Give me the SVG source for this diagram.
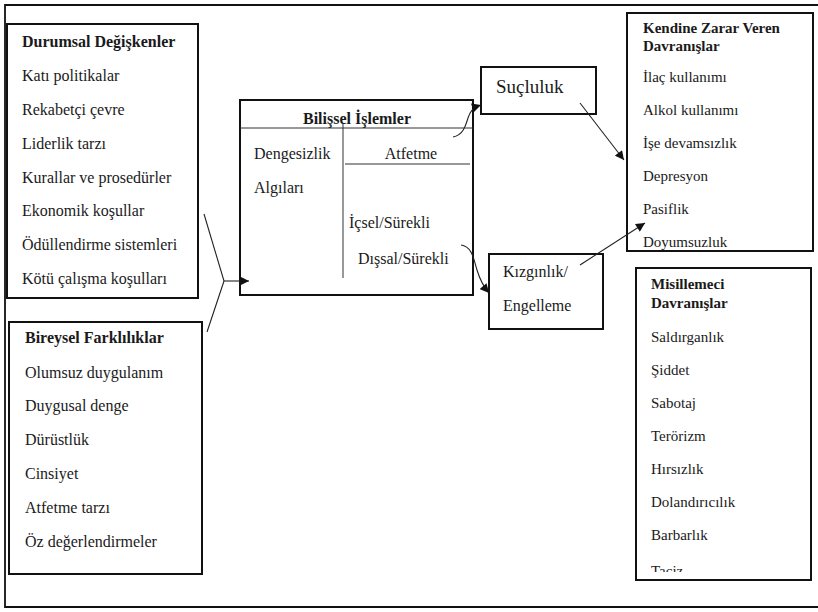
<svg xmlns="http://www.w3.org/2000/svg" width="818" height="612" viewBox="0 0 818 612">
<style>
.box{fill:#fff;stroke:#111;stroke-width:2}
.t{font-family:'Liberation Serif','Times New Roman','DejaVu Serif',serif;font-size:16px;fill:#1a1a1a}
.s{font-size:15px}
.b{font-weight:bold}
.thin{fill:none;stroke:#333;stroke-width:1}
.con{fill:none;stroke:#222;stroke-width:1.1}
</style>
<defs>
<marker id="ah" viewBox="0 0 10 10" refX="10" refY="5" markerWidth="10" markerHeight="9" markerUnits="userSpaceOnUse" orient="auto"><path d="M0,0 L10,5 L0,10 z" fill="#111"/></marker>
<clipPath id="mclip"><rect x="636" y="268" width="175" height="304"/></clipPath>
</defs>
<rect width="818" height="612" fill="#fff"/>
<path d="M830,5 H5 V607 H830" fill="none" stroke="#111" stroke-width="1.8"/>

<g id="durumsal">
<rect class="box" x="7" y="24" width="191" height="274"/>
<text class="t b" x="22" y="47">Durumsal Değişkenler</text>
<text class="t" x="22" y="81">Katı politikalar</text>
<text class="t" x="22" y="115">Rekabetçi çevre</text>
<text class="t" x="22" y="149">Liderlik tarzı</text>
<text class="t" x="22" y="183">Kurallar ve prosedürler</text>
<text class="t" x="22" y="216">Ekonomik koşullar</text>
<text class="t" x="22" y="250">Ödüllendirme sistemleri</text>
<text class="t" x="22" y="284">Kötü çalışma koşulları</text>
</g>

<g id="bireysel">
<rect class="box" x="9" y="322" width="193" height="252"/>
<text class="t b" x="25" y="343">Bireysel Farklılıklar</text>
<text class="t" x="25" y="378">Olumsuz duygulanım</text>
<text class="t" x="25" y="411">Duygusal denge</text>
<text class="t" x="25" y="445">Dürüstlük</text>
<text class="t" x="25" y="479">Cinsiyet</text>
<text class="t" x="25" y="513">Atfetme tarzı</text>
<text class="t" x="25" y="547">Öz değerlendirmeler</text>
</g>

<g id="bilissel">
<rect class="box" x="240" y="100" width="233" height="195"/>
<line class="thin" x1="240" y1="128" x2="473" y2="128"/>
<text class="t b" x="357" y="124" text-anchor="middle">Bilişsel İşlemler</text>
<line class="thin" x1="343" y1="123" x2="343" y2="278"/>
<text class="t" x="254" y="159">Dengesizlik</text>
<text class="t" x="254" y="193">Algıları</text>
<text class="t" x="411" y="159" text-anchor="middle">Atfetme</text>
<line class="thin" x1="345" y1="164" x2="470" y2="164"/>
<text class="t" x="349" y="228">İçsel/Sürekli</text>
<text class="t" x="358" y="264">Dışsal/Sürekli</text>
</g>

<g id="sucluluk">
<rect class="box" x="481" y="67" width="115" height="47"/>
<text class="t" x="496" y="93" style="font-size:19px">Suçluluk</text>
</g>

<g id="kizginlik">
<rect class="box" x="489" y="254" width="114" height="75"/>
<text class="t" x="503" y="277">Kızgınlık/</text>
<text class="t" x="503" y="311">Engelleme</text>
</g>

<g id="kendine">
<rect class="box" x="627" y="13" width="186" height="238"/>
<text class="t s b" x="643" y="33">Kendine Zarar Veren</text>
<text class="t s b" x="643" y="51">Davranışlar</text>
<text class="t s" x="643" y="82">İlaç kullanımı</text>
<text class="t s" x="643" y="115">Alkol kullanımı</text>
<text class="t s" x="643" y="148">İşe devamsızlık</text>
<text class="t s" x="643" y="181">Depresyon</text>
<text class="t s" x="643" y="214">Pasiflik</text>
<text class="t s" x="643" y="247">Doyumsuzluk</text>
</g>

<g id="misillemeci">
<rect class="box" x="636" y="268" width="175" height="312"/>
<g clip-path="url(#mclip)">
<text class="t s b" x="651" y="289">Misillemeci</text>
<text class="t s b" x="651" y="308">Davranışlar</text>
<text class="t s" x="651" y="342">Saldırganlık</text>
<text class="t s" x="651" y="375">Şiddet</text>
<text class="t s" x="651" y="408">Sabotaj</text>
<text class="t s" x="651" y="441">Terörizm</text>
<text class="t s" x="651" y="474">Hırsızlık</text>
<text class="t s" x="651" y="507">Dolandırıcılık</text>
<text class="t s" x="651" y="540">Barbarlık</text>
<text class="t s" x="651" y="576">Taciz</text>
</g>
</g>

<g id="connectors">
<line class="con" x1="204" y1="214" x2="224" y2="281"/>
<line class="con" x1="224" y1="281" x2="207" y2="332"/>
<path class="con" d="M224,281 H249" marker-end="url(#ah)"/>
<path class="con" d="M453,137 C464,135 466,124 468,118 C470,112 472,108 481,105" marker-end="url(#ah)"/>
<path class="con" d="M461,245 C472,246 474,260 477,270 C480,280 483,286 489,293" marker-end="url(#ah)"/>
<path class="con" d="M580,103 L624,160" marker-end="url(#ah)"/>
<path class="con" d="M580,265 L645,223" marker-end="url(#ah)"/>
</g>
</svg>
